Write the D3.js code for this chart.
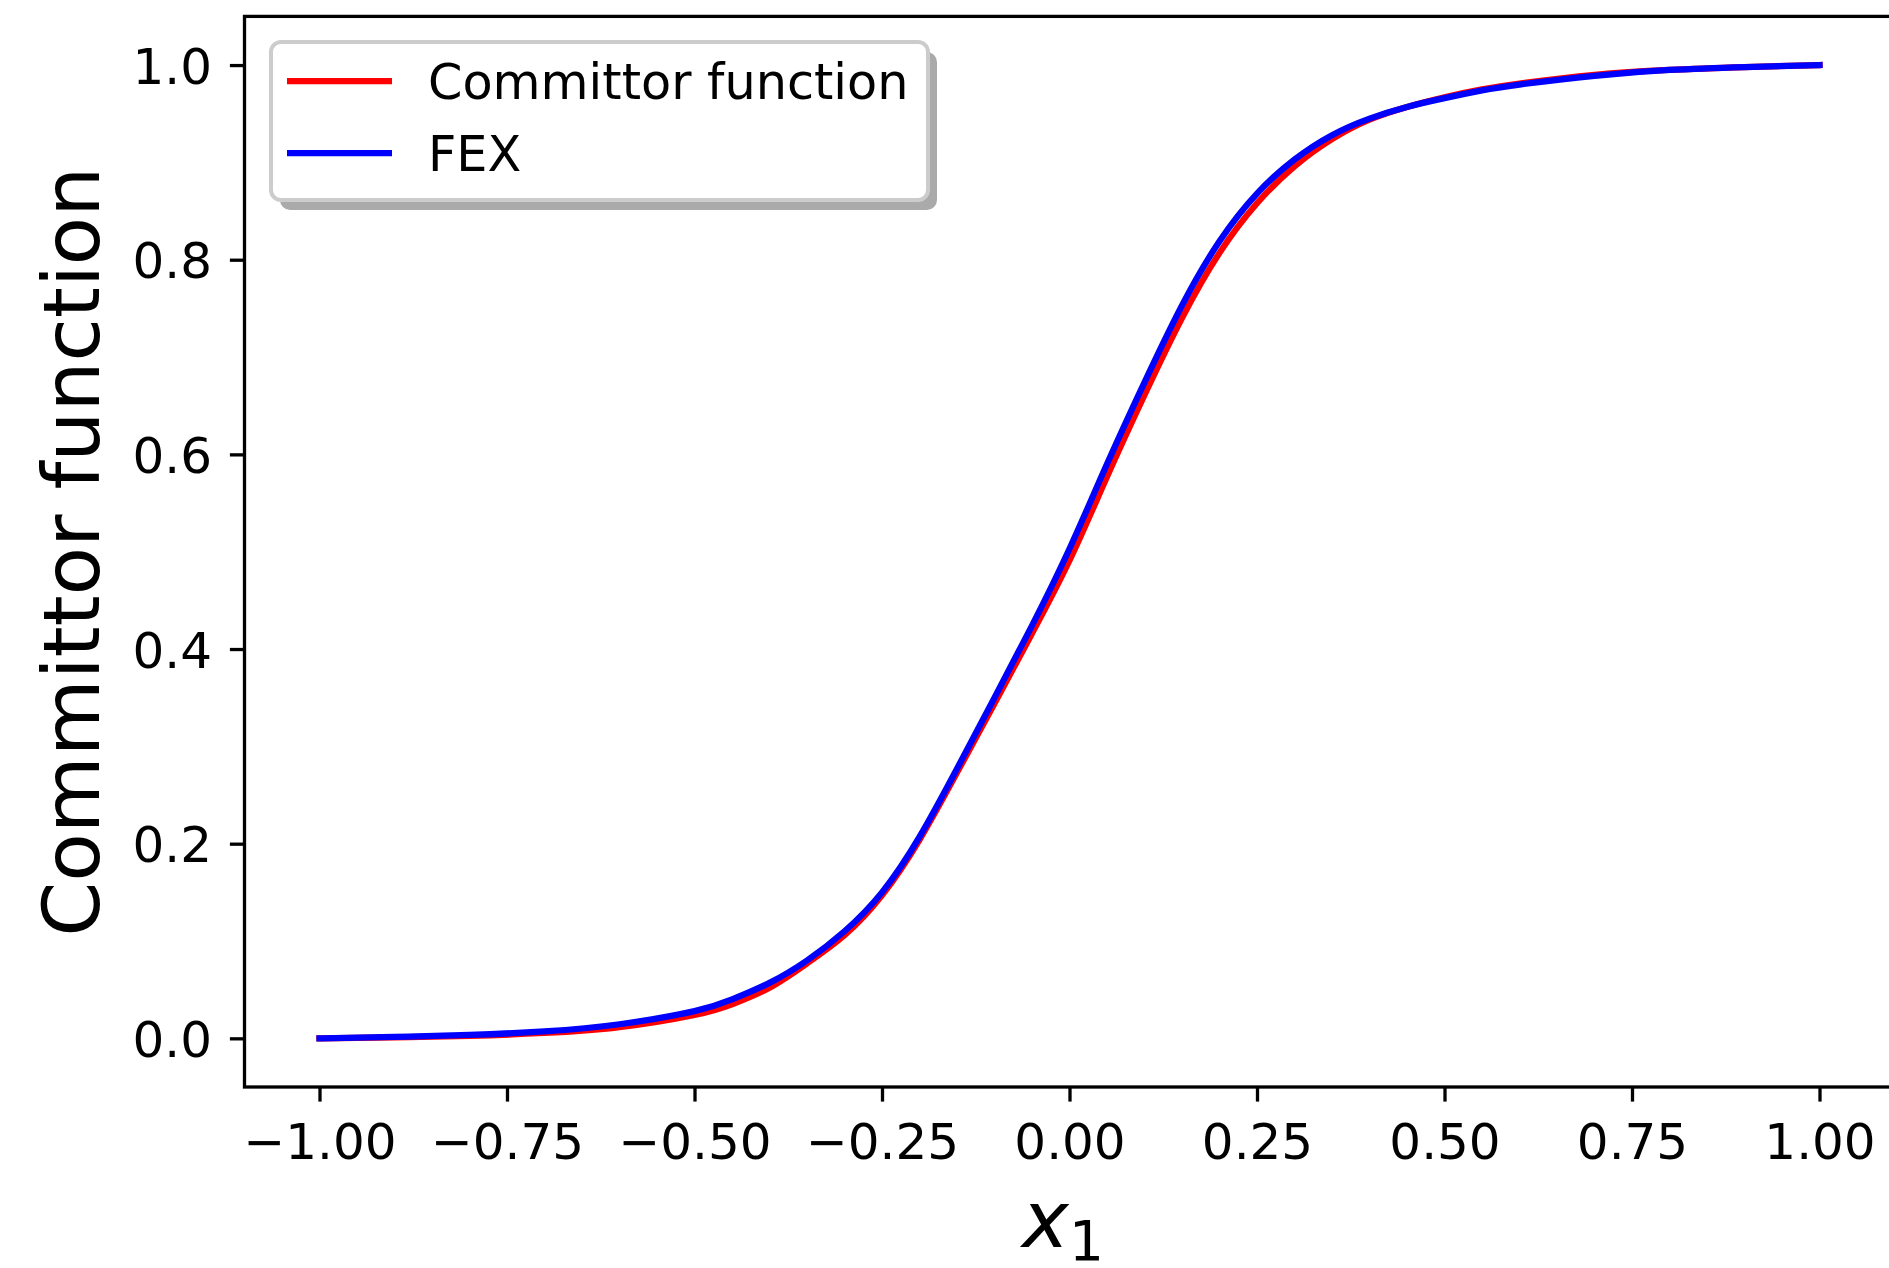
<!DOCTYPE html>
<html>
<head>
<meta charset="utf-8">
<script src="https://cdn.jsdelivr.net/npm/d3@7"></script>
<style>
  body { margin: 0; background: #fff; }
  text { font-family: "DejaVu Sans", sans-serif; }
</style>
</head>
<body>
<div id="chart"></div>
<script>
// data
var xValues = [-1.0, -0.9, -0.8, -0.7, -0.6, -0.5, -0.45, -0.4, -0.35, -0.3, -0.25, -0.2, -0.15, -0.1, -0.05,
  0.0, 0.05, 0.1, 0.15, 0.2, 0.25, 0.3, 0.35, 0.4, 0.45, 0.5, 0.55, 0.6, 0.7, 0.8, 0.9, 1.0];

var committorValues = [0.000, 0.001, 0.0025, 0.0055, 0.0115, 0.024, 0.035, 0.052, 0.077, 0.106, 0.147, 0.204, 0.273, 0.344, 0.416,
  0.491, 0.577, 0.661, 0.740, 0.807, 0.858, 0.896, 0.924, 0.944, 0.957, 0.967, 0.975, 0.981, 0.990, 0.995, 0.998, 1.000];

var fexValues = [0.000, 0.0015, 0.0035, 0.0072, 0.0145, 0.028, 0.040, 0.057, 0.080, 0.110, 0.150, 0.207, 0.277, 0.350, 0.424,
  0.503, 0.590, 0.674, 0.753, 0.819, 0.868, 0.903, 0.928, 0.945, 0.957, 0.966, 0.974, 0.980, 0.989, 0.995, 0.998, 1.000];

var seriesNames = ["Committor function", "FEX"];
var seriesColors = ["#ff0000", "#0000ff"];

var xTicks = [-1.0, -0.75, -0.5, -0.25, 0.0, 0.25, 0.5, 0.75, 1.0];
var yTicks = [0.0, 0.2, 0.4, 0.6, 0.8, 1.0];

var svgWidth = 1889;
var svgHeight = 1268;

var margin = { top: 16.4, left: 244.5 };
var width = 1650;
var height = 1070.6;

var svg = d3.select("#chart")
  .append("svg")
  .attr("width", svgWidth)
  .attr("height", svgHeight);

var chartGroup = svg.append("g")
  .attr("transform", `translate(${margin.left}, ${margin.top})`);

// scales (matplotlib style 5% margins)
var xLinearScale = d3.scaleLinear().domain([-1.1, 1.1]).range([0, width]);
var yLinearScale = d3.scaleLinear().domain([-0.05, 1.05]).range([height, 0]);

var tickLen = 14.6;
var tickPad = 14.6;

var bottomAxis = d3.axisBottom(xLinearScale)
  .tickValues(xTicks)
  .tickFormat(d3.format(".2f"))
  .tickSizeInner(tickLen)
  .tickSizeOuter(0)
  .tickPadding(tickPad);

var leftAxis = d3.axisLeft(yLinearScale)
  .tickValues(yTicks)
  .tickFormat(d3.format(".1f"))
  .tickSizeInner(tickLen)
  .tickSizeOuter(0)
  .tickPadding(tickPad);

var xAxis = chartGroup.append("g")
  .attr("transform", `translate(0, ${height})`)
  .call(bottomAxis);

var yAxis = chartGroup.append("g")
  .call(leftAxis);

[xAxis, yAxis].forEach(function(ax) {
  ax.select(".domain").remove();
  ax.selectAll(".tick line").attr("stroke", "#000").attr("stroke-width", 3.3);
  ax.selectAll(".tick text")
    .attr("fill", "#000")
    .style("font-family", "DejaVu Sans")
    .style("font-size", "50px");
});

xAxis.selectAll(".tick text").attr("dy", null).attr("y", 1159 - 1087);
yAxis.selectAll(".tick text").attr("dy", null).attr("y", 18).attr("x", -(margin.left - 212));

// lines
var lineGen = d3.line()
  .x(d => xLinearScale(d[0]))
  .y(d => yLinearScale(d[1]))
  .curve(d3.curveNatural);

var allSeries = [committorValues, fexValues];

allSeries.forEach(function(vals, i) {
  var pts = xValues.map((x, j) => [x, vals[j]]);
  chartGroup.append("path")
    .datum(pts)
    .attr("d", lineGen)
    .attr("fill", "none")
    .attr("stroke", seriesColors[i])
    .attr("stroke-width", 6.25)
    .attr("stroke-linecap", "square")
    .attr("stroke-linejoin", "round");
});

// frame
chartGroup.append("rect")
  .attr("x", 0)
  .attr("y", 0)
  .attr("width", width)
  .attr("height", height)
  .attr("fill", "none")
  .attr("stroke", "#000")
  .attr("stroke-width", 3.3);

// axis labels
svg.append("text")
  .attr("transform", `translate(98.5, ${margin.top + height / 2}) rotate(-90)`)
  .attr("text-anchor", "middle")
  .style("font-size", "79px")
  .attr("fill", "#000")
  .text("Committor function");

var xlabel = svg.append("text")
  .attr("x", 1063)
  .attr("y", 1247)
  .attr("text-anchor", "middle")
  .attr("fill", "#000")
  .style("font-size", "79px");
xlabel.append("tspan").style("font-style", "italic").text("x");
xlabel.append("tspan").attr("dy", 13).style("font-size", "55px").text("1");

// legend
var legend = svg.append("g");
var lx = 271, ly = 42, lw = 657, lh = 158;

legend.append("rect")
  .attr("x", lx + 9)
  .attr("y", ly + 10)
  .attr("width", lw)
  .attr("height", lh)
  .attr("rx", 10)
  .attr("fill", "#aaaaaa");

legend.append("rect")
  .attr("x", lx)
  .attr("y", ly)
  .attr("width", lw)
  .attr("height", lh)
  .attr("rx", 10)
  .attr("fill", "#fff")
  .attr("stroke", "#cccccc")
  .attr("stroke-width", 4);

var rowY = [81, 153];
seriesNames.forEach(function(name, i) {
  legend.append("line")
    .attr("x1", 287)
    .attr("x2", 392)
    .attr("y1", rowY[i])
    .attr("y2", rowY[i])
    .attr("stroke", seriesColors[i])
    .attr("stroke-width", 6.25);

  legend.append("text")
    .attr("x", 428)
    .attr("y", rowY[i] + 17.5)
    .attr("fill", "#000")
    .style("font-size", "49.3px")
    .text(name);
});
</script>
</body>
</html>
